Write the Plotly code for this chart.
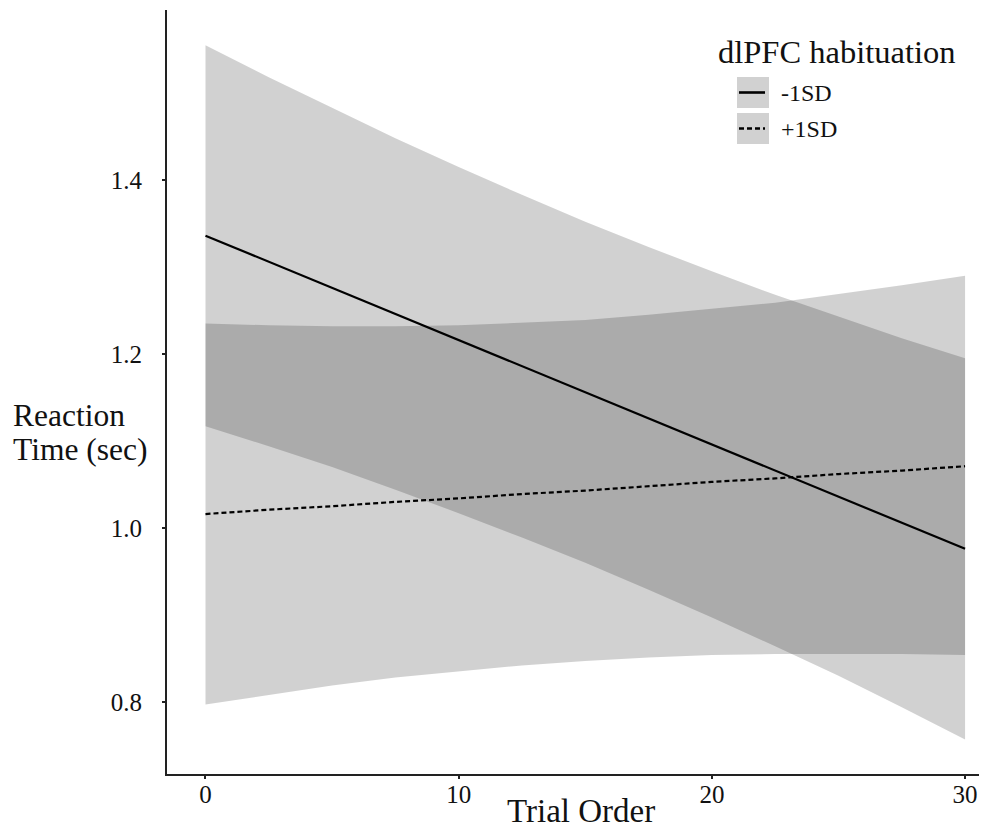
import plotly.graph_objects as go

# ---- data ----
trial = [0, 2.5, 5, 7.5, 10, 12.5, 15, 17.5, 20, 22.5, 25, 27.5, 30]

# -1SD dlPFC habituation (solid line)
fit_minus = [1.336, 1.306, 1.276, 1.246, 1.216, 1.186, 1.156, 1.126, 1.096, 1.066, 1.036, 1.006, 0.976]
upper_minus = [1.555, 1.518, 1.483, 1.448, 1.415, 1.383, 1.352, 1.323, 1.295, 1.268, 1.243, 1.218, 1.195]
lower_minus = [1.117, 1.094, 1.070, 1.044, 1.017, 0.989, 0.960, 0.929, 0.897, 0.864, 0.830, 0.794, 0.757]

# +1SD dlPFC habituation (dashed line)
fit_plus = [1.016, 1.021, 1.025, 1.030, 1.034, 1.039, 1.043, 1.048, 1.053, 1.057, 1.062, 1.066, 1.071]
upper_plus = [1.235, 1.233, 1.232, 1.232, 1.233, 1.236, 1.239, 1.245, 1.252, 1.259, 1.269, 1.279, 1.290]
lower_plus = [0.797, 0.808, 0.819, 0.828, 0.835, 0.842, 0.847, 0.851, 0.854, 0.855, 0.855, 0.855, 0.854]

x_ticks = [0, 10, 20, 30]
y_ticks = [0.8, 1.0, 1.2, 1.4]
y_tick_labels = ["0.8", "1.0", "1.2", "1.4"]

series = [
    ("-1SD", fit_minus, upper_minus, lower_minus, "solid"),
    ("+1SD", fit_plus, upper_plus, lower_plus, "5px,3px"),
]

FONT = "Liberation Serif"
BAND = "rgba(0,0,0,0.18)"
TXT = "#111"

fig = go.Figure()
for name, fit, up, lo, dash in series:
    fig.add_trace(go.Scatter(x=trial, y=up, mode="lines", line=dict(width=0),
                             showlegend=False, hoverinfo="skip"))
    fig.add_trace(go.Scatter(x=trial, y=lo, mode="lines", line=dict(width=0),
                             fill="tonexty", fillcolor=BAND,
                             showlegend=False, hoverinfo="skip"))
for name, fit, up, lo, dash in series:
    fig.add_trace(go.Scatter(x=trial, y=fit, mode="lines", name=name,
                             line=dict(color="black", width=2.2, dash=dash),
                             showlegend=False))

W, H = 985, 829
L, R, T, B = 167, 6, 10, 55
pw, ph = W - L - R, H - T - B


def px(xp):
    return (xp - L) / pw


def py(yp):
    return (H - B - yp) / ph


shapes = []
annotations = []
# manual legend
legend_items = [("-1SD", "solid", 77, 108), ("+1SD", "5px,3px", 113, 144)]
for label, dash, y0, y1 in legend_items:
    shapes.append(dict(type="rect", xref="paper", yref="paper",
                       x0=px(737), x1=px(769), y0=py(y1), y1=py(y0),
                       fillcolor=BAND, line=dict(width=0), layer="above"))
    yc = (y0 + y1) / 2
    shapes.append(dict(type="line", xref="paper", yref="paper",
                       x0=px(739), x1=px(765), y0=py(yc), y1=py(yc),
                       line=dict(color="black", width=2.6, dash=dash)))
    annotations.append(dict(text=label, xref="paper", yref="paper",
                            x=px(779), y=py(yc), xanchor="left", yanchor="middle",
                            showarrow=False, font=dict(family=FONT, size=24, color=TXT)))
annotations.append(dict(text="dlPFC habituation", xref="paper", yref="paper",
                        x=px(716), y=py(52), xanchor="left", yanchor="middle",
                        showarrow=False, font=dict(family=FONT, size=32.5, color=TXT)))
# axis titles
annotations.append(dict(text="Trial Order", xref="paper", yref="paper",
                        x=px(581), y=py(811), xanchor="center", yanchor="middle",
                        showarrow=False, font=dict(family=FONT, size=33, color=TXT)))
annotations.append(dict(text="Reaction", xref="paper", yref="paper",
                        x=px(11), y=py(415), xanchor="left", yanchor="middle",
                        showarrow=False, font=dict(family=FONT, size=31.5, color=TXT)))
annotations.append(dict(text="Time (sec)", xref="paper", yref="paper",
                        x=px(11), y=py(449), xanchor="left", yanchor="middle",
                        showarrow=False, font=dict(family=FONT, size=31.5, color=TXT)))

fig.update_layout(
    width=W, height=H,
    margin=dict(l=L, r=R, t=T, b=B, pad=0),
    paper_bgcolor="white", plot_bgcolor="white",
    font=dict(family=FONT, size=24, color=TXT),
    showlegend=False,
    shapes=shapes,
    annotations=annotations,
    xaxis=dict(range=[-1.52, 30.55], tickvals=x_ticks, showgrid=False, zeroline=False,
               showline=True, linecolor="#222", linewidth=2, mirror=False,
               ticks="outside", ticklen=3, tickwidth=1.5, tickcolor="#222",
               tickfont=dict(family=FONT, size=25, color=TXT), ticklabelstandoff=-6),
    yaxis=dict(range=[0.7172, 1.5954], tickvals=y_ticks, ticktext=y_tick_labels,
               showgrid=False, zeroline=False,
               showline=True, linecolor="#222", linewidth=2, mirror=False,
               ticks="outside", ticklen=3, tickwidth=1.5, tickcolor="#222",
               tickfont=dict(family=FONT, size=25, color=TXT), ticklabelstandoff=15),
)

fig.write_html("out.html")
